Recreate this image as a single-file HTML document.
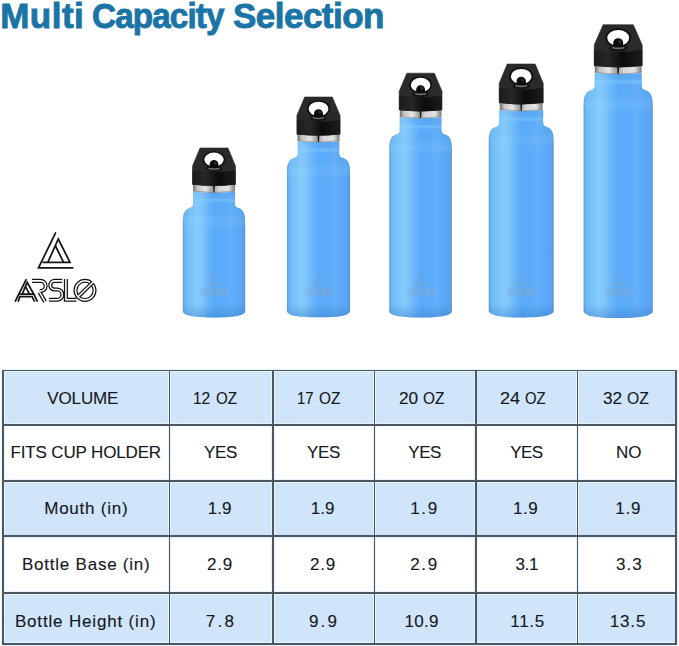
<!DOCTYPE html>
<html><head><meta charset="utf-8">
<style>
html,body{margin:0;padding:0;background:#fff;}
body{width:679px;height:646px;position:relative;overflow:hidden;font-family:"Liberation Sans",sans-serif;}
.title{position:absolute;top:-2px;font-weight:bold;font-size:35px;line-height:35px;color:#1a74a6;white-space:nowrap;-webkit-text-stroke:0.9px #1a74a6;}
svg{position:absolute;left:0;top:0;}
.c{position:absolute;}
.t{position:absolute;white-space:nowrap;color:#15181e;-webkit-text-stroke:0.12px #15181e;font-size:17.0px;line-height:17.0px;}
</style></head><body>
<div class="title" style="left:0.2px;letter-spacing:0.5px">Multi</div><div class="title" style="left:92.0px;letter-spacing:-0.93px;transform:scaleX(0.95);transform-origin:0 0">Capacity</div><div class="title" style="left:233px;letter-spacing:-0.53px">Selection</div>
<svg width="679" height="646" viewBox="0 0 679 646">
<defs>
<linearGradient id="bodyg" gradientUnits="objectBoundingBox" x1="0" x2="1" y1="0" y2="0">
  <stop offset="0" stop-color="#5f9ad8"/>
  <stop offset="0.035" stop-color="#6cb8f5"/>
  <stop offset="0.10" stop-color="#76c1f8"/>
  <stop offset="0.22" stop-color="#84cbfc"/>
  <stop offset="0.30" stop-color="#7fc6fb"/>
  <stop offset="0.40" stop-color="#6ab6fa"/>
  <stop offset="0.50" stop-color="#5aabfa"/>
  <stop offset="0.66" stop-color="#5cacfa"/>
  <stop offset="0.76" stop-color="#64aff8"/>
  <stop offset="0.86" stop-color="#5ba9f8"/>
  <stop offset="0.96" stop-color="#58a5f3"/>
  <stop offset="1" stop-color="#5f92cc"/>
</linearGradient>
<linearGradient id="bodyv0" gradientUnits="objectBoundingBox" x1="0" x2="0" y1="0" y2="1">
  <stop offset="0" stop-color="#3c7fc0" stop-opacity="0.10"/>
  <stop offset="0.0931" stop-color="#3c7fc0" stop-opacity="0.0"/>
  <stop offset="0.2323" stop-color="#9ad6ff" stop-opacity="0.18"/>
  <stop offset="0.2959" stop-color="#9ad6ff" stop-opacity="0.0"/>
  <stop offset="0.8886" stop-color="#2f6fb5" stop-opacity="0.0"/>
  <stop offset="1" stop-color="#2f6fb5" stop-opacity="0.35"/>
</linearGradient><linearGradient id="bodyv1" gradientUnits="objectBoundingBox" x1="0" x2="0" y1="0" y2="1">
  <stop offset="0" stop-color="#3c7fc0" stop-opacity="0.10"/>
  <stop offset="0.0683" stop-color="#3c7fc0" stop-opacity="0.0"/>
  <stop offset="0.1678" stop-color="#9ad6ff" stop-opacity="0.18"/>
  <stop offset="0.2133" stop-color="#9ad6ff" stop-opacity="0.0"/>
  <stop offset="0.9204" stop-color="#2f6fb5" stop-opacity="0.0"/>
  <stop offset="1" stop-color="#2f6fb5" stop-opacity="0.35"/>
</linearGradient><linearGradient id="bodyv2" gradientUnits="objectBoundingBox" x1="0" x2="0" y1="0" y2="1">
  <stop offset="0" stop-color="#3c7fc0" stop-opacity="0.10"/>
  <stop offset="0.0625" stop-color="#3c7fc0" stop-opacity="0.0"/>
  <stop offset="0.1500" stop-color="#9ad6ff" stop-opacity="0.18"/>
  <stop offset="0.1900" stop-color="#9ad6ff" stop-opacity="0.0"/>
  <stop offset="0.9300" stop-color="#2f6fb5" stop-opacity="0.0"/>
  <stop offset="1" stop-color="#2f6fb5" stop-opacity="0.35"/>
</linearGradient><linearGradient id="bodyv3" gradientUnits="objectBoundingBox" x1="0" x2="0" y1="0" y2="1">
  <stop offset="0" stop-color="#3c7fc0" stop-opacity="0.10"/>
  <stop offset="0.0589" stop-color="#3c7fc0" stop-opacity="0.0"/>
  <stop offset="0.1433" stop-color="#9ad6ff" stop-opacity="0.18"/>
  <stop offset="0.1819" stop-color="#9ad6ff" stop-opacity="0.0"/>
  <stop offset="0.9324" stop-color="#2f6fb5" stop-opacity="0.0"/>
  <stop offset="1" stop-color="#2f6fb5" stop-opacity="0.35"/>
</linearGradient><linearGradient id="bodyv4" gradientUnits="objectBoundingBox" x1="0" x2="0" y1="0" y2="1">
  <stop offset="0" stop-color="#3c7fc0" stop-opacity="0.10"/>
  <stop offset="0.0502" stop-color="#3c7fc0" stop-opacity="0.0"/>
  <stop offset="0.1279" stop-color="#9ad6ff" stop-opacity="0.18"/>
  <stop offset="0.1605" stop-color="#9ad6ff" stop-opacity="0.0"/>
  <stop offset="0.9428" stop-color="#2f6fb5" stop-opacity="0.0"/>
  <stop offset="1" stop-color="#2f6fb5" stop-opacity="0.35"/>
</linearGradient>
<linearGradient id="metal" x1="0" x2="1" y1="0" y2="0">
  <stop offset="0" stop-color="#6e6e6e"/>
  <stop offset="0.1" stop-color="#c4c4c4"/>
  <stop offset="0.3" stop-color="#e6e6e6"/>
  <stop offset="0.47" stop-color="#9a9a9a"/>
  <stop offset="0.62" stop-color="#d6d6d6"/>
  <stop offset="0.85" stop-color="#e2e2e2"/>
  <stop offset="1" stop-color="#7a7a7a"/>
</linearGradient>
<linearGradient id="capband" x1="0" x2="1" y1="0" y2="0">
  <stop offset="0" stop-color="#1c1c1c"/>
  <stop offset="0.3" stop-color="#262626"/>
  <stop offset="0.6" stop-color="#0c0c0c"/>
  <stop offset="1" stop-color="#1c1c1c"/>
</linearGradient>
</defs>
<path d="M193.00,191.80 L235.00,191.80 L235.00,203.50 Q235.00,206.62 237.86,207.79 C243.98,209.35 245.20,214.22 245.20,223.00 L245.20,311.00 C245.20,316.20 231.16,317.50 214.00,317.50 C196.84,317.50 182.80,316.20 182.80,311.00 L182.80,223.00 C182.80,214.22 184.02,209.35 190.14,207.79 Q193.00,206.62 193.00,203.50 Z" fill="url(#bodyg)"/>
<path d="M193.00,191.80 L235.00,191.80 L235.00,203.50 Q235.00,206.62 237.86,207.79 C243.98,209.35 245.20,214.22 245.20,223.00 L245.20,311.00 C245.20,316.20 231.16,317.50 214.00,317.50 C196.84,317.50 182.80,316.20 182.80,311.00 L182.80,223.00 C182.80,214.22 184.02,209.35 190.14,207.79 Q193.00,206.62 193.00,203.50 Z" fill="url(#bodyv0)"/>
<rect x="193.00" y="198.50" width="42.00" height="3.50" fill="#8fd0fb" opacity="0.35"/>
<path d="M193.10,183.50 L234.90,183.50 L234.90,191.40 Q214.00,194.20 193.10,191.40 Z" fill="url(#metal)"/>
<path d="M193.10,191.10 Q214.00,193.90 234.90,191.10" stroke="#6f6f6f" stroke-width="0.7" fill="none" opacity="0.7"/>
<path d="M213.10,185.00 L214.90,185.00 L214.50,192.30 L213.50,192.30 Z" fill="#121212"/>
<path d="M200.00,148.00 L228.00,148.00 L235.50,166.00 L235.50,184.40 Q214.00,187.00 192.50,184.40 L192.50,166.00 Z" fill="#2a2a2a" stroke="#2a2a2a" stroke-width="0.6" stroke-linejoin="round"/>
<path d="M192.50,170.20 Q214.00,174.20 235.50,170.20 L235.50,184.40 Q214.00,187.00 192.50,184.40 Z" fill="url(#capband)"/>
<ellipse cx="214.00" cy="159.60" rx="11.40" ry="8.70" fill="#111"/>
<ellipse cx="214.00" cy="159.60" rx="9.70" ry="7.00" fill="#fff"/>
<ellipse cx="214.00" cy="168.60" rx="8.40" ry="3.10" fill="#141414"/>
<ellipse cx="214.00" cy="168.40" rx="5.80" ry="1.40" fill="#707070"/>
<path d="M209.60,167.70 L209.60,164.30 A4.40,4.40 0 0 1 218.40,164.30 L218.40,167.70 Q214.00,168.80 209.60,167.70 Z" fill="#0b0b0b"/>
<ellipse cx="215.20" cy="163.10" rx="1.30" ry="1.60" fill="#2c2c2c"/>
<g stroke="#7f9fc0" stroke-width="0.9" fill="none" opacity="0.8"><path d="M213.70,272.00 L209.20,285.50 L219.00,285.50 M214.60,274.50 L218.20,283.20 L210.40,283.20"/></g>
<rect x="200.00" y="288.00" width="28" height="8" rx="3" fill="#86a6c6" opacity="0.22"/>
<g stroke="#8fa9c4" stroke-width="0.8" fill="none" opacity="0.6"><path d="M202.00,295.50 L205.00,288.50 L208.00,295.50 M209.00,288.50 L212.50,288.50 Q214.50,290.50 212.50,292.00 L214.50,295.50 M218.00,288.50 Q215.50,290.00 217.00,292.00 Q218.50,293.50 216.00,295.50 M219.50,288.50 L219.50,295.50 L222.00,295.50"/><circle cx="224.50" cy="292.00" r="3.2"/></g>
<path d="M297.70,141.50 L339.30,141.50 L339.30,153.50 Q339.30,156.62 342.32,157.79 C348.80,159.35 350.10,164.22 350.10,173.00 L350.10,310.66 C350.10,315.97 335.88,317.30 318.50,317.30 C301.12,317.30 286.90,315.97 286.90,310.66 L286.90,173.00 C286.90,164.22 288.20,159.35 294.68,157.79 Q297.70,156.62 297.70,153.50 Z" fill="url(#bodyg)"/>
<path d="M297.70,141.50 L339.30,141.50 L339.30,153.50 Q339.30,156.62 342.32,157.79 C348.80,159.35 350.10,164.22 350.10,173.00 L350.10,310.66 C350.10,315.97 335.88,317.30 318.50,317.30 C301.12,317.30 286.90,315.97 286.90,310.66 L286.90,173.00 C286.90,164.22 288.20,159.35 294.68,157.79 Q297.70,156.62 297.70,153.50 Z" fill="url(#bodyv1)"/>
<rect x="297.70" y="148.39" width="41.60" height="3.58" fill="#8fd0fb" opacity="0.35"/>
<path d="M297.50,133.30 L339.50,133.30 L339.50,141.07 Q318.50,143.93 297.50,141.07 Z" fill="url(#metal)"/>
<path d="M297.50,140.77 Q318.50,143.63 339.50,140.77" stroke="#6f6f6f" stroke-width="0.7" fill="none" opacity="0.7"/>
<path d="M317.58,134.80 L319.42,134.80 L319.01,142.00 L317.99,142.00 Z" fill="#121212"/>
<path d="M304.70,97.00 L332.30,97.00 L340.10,115.39 L340.10,134.19 Q318.50,136.84 296.90,134.19 L296.90,115.39 Z" fill="#2a2a2a" stroke="#2a2a2a" stroke-width="0.6" stroke-linejoin="round"/>
<path d="M296.90,119.68 Q318.50,123.77 340.10,119.68 L340.10,134.19 Q318.50,136.84 296.90,134.19 Z" fill="url(#capband)"/>
<ellipse cx="318.50" cy="108.85" rx="11.65" ry="8.89" fill="#111"/>
<ellipse cx="318.50" cy="108.85" rx="9.91" ry="7.15" fill="#fff"/>
<ellipse cx="318.50" cy="118.05" rx="8.58" ry="3.17" fill="#141414"/>
<ellipse cx="318.50" cy="117.84" rx="5.93" ry="1.43" fill="#707070"/>
<path d="M314.00,117.13 L314.00,113.65 A4.50,4.50 0 0 1 323.00,113.65 L323.00,117.13 Q318.50,118.25 314.00,117.13 Z" fill="#0b0b0b"/>
<ellipse cx="319.73" cy="112.43" rx="1.33" ry="1.63" fill="#2c2c2c"/>
<g stroke="#7f9fc0" stroke-width="0.9" fill="none" opacity="0.8"><path d="M318.20,271.80 L313.70,285.30 L323.50,285.30 M319.10,274.30 L322.70,283.00 L314.90,283.00"/></g>
<rect x="304.50" y="287.80" width="28" height="8" rx="3" fill="#86a6c6" opacity="0.22"/>
<g stroke="#8fa9c4" stroke-width="0.8" fill="none" opacity="0.6"><path d="M306.50,295.30 L309.50,288.30 L312.50,295.30 M313.50,288.30 L317.00,288.30 Q319.00,290.30 317.00,291.80 L319.00,295.30 M322.50,288.30 Q320.00,289.80 321.50,291.80 Q323.00,293.30 320.50,295.30 M324.00,288.30 L324.00,295.30 L326.50,295.30"/><circle cx="329.00" cy="291.80" r="3.2"/></g>
<path d="M399.60,117.50 L441.60,117.50 L441.60,130.00 Q441.60,133.12 444.48,134.29 C450.66,135.85 451.90,140.72 451.90,149.50 L451.90,310.95 C451.90,316.19 437.82,317.50 420.60,317.50 C403.38,317.50 389.30,316.19 389.30,310.95 L389.30,149.50 C389.30,140.72 390.54,135.85 396.72,134.29 Q399.60,133.12 399.60,130.00 Z" fill="url(#bodyg)"/>
<path d="M399.60,117.50 L441.60,117.50 L441.60,130.00 Q441.60,133.12 444.48,134.29 C450.66,135.85 451.90,140.72 451.90,149.50 L451.90,310.95 C451.90,316.19 437.82,317.50 420.60,317.50 C403.38,317.50 389.30,316.19 389.30,310.95 L389.30,149.50 C389.30,140.72 390.54,135.85 396.72,134.29 Q399.60,133.12 399.60,130.00 Z" fill="url(#bodyv2)"/>
<rect x="399.60" y="124.96" width="42.00" height="3.53" fill="#8fd0fb" opacity="0.35"/>
<path d="M399.80,109.00 L441.40,109.00 L441.40,117.09 Q420.60,119.91 399.80,117.09 Z" fill="url(#metal)"/>
<path d="M399.80,116.79 Q420.60,119.61 441.40,116.79" stroke="#6f6f6f" stroke-width="0.7" fill="none" opacity="0.7"/>
<path d="M419.69,110.50 L421.51,110.50 L421.10,118.00 L420.10,118.00 Z" fill="#121212"/>
<path d="M406.80,73.20 L434.40,73.20 L442.00,91.35 L442.00,109.90 Q420.60,112.52 399.20,109.90 L399.20,91.35 Z" fill="#2a2a2a" stroke="#2a2a2a" stroke-width="0.6" stroke-linejoin="round"/>
<path d="M399.20,95.58 Q420.60,99.61 442.00,95.58 L442.00,109.90 Q420.60,112.52 399.20,109.90 Z" fill="url(#capband)"/>
<ellipse cx="420.60" cy="84.89" rx="11.49" ry="8.77" fill="#111"/>
<ellipse cx="420.60" cy="84.89" rx="9.78" ry="7.06" fill="#fff"/>
<ellipse cx="420.60" cy="93.97" rx="8.47" ry="3.13" fill="#141414"/>
<ellipse cx="420.60" cy="93.77" rx="5.85" ry="1.41" fill="#707070"/>
<path d="M416.16,93.06 L416.16,89.63 A4.44,4.44 0 0 1 425.04,89.63 L425.04,93.06 Q420.60,94.17 416.16,93.06 Z" fill="#0b0b0b"/>
<ellipse cx="421.81" cy="88.42" rx="1.31" ry="1.61" fill="#2c2c2c"/>
<g stroke="#7f9fc0" stroke-width="0.9" fill="none" opacity="0.8"><path d="M420.30,272.00 L415.80,285.50 L425.60,285.50 M421.20,274.50 L424.80,283.20 L417.00,283.20"/></g>
<rect x="406.60" y="288.00" width="28" height="8" rx="3" fill="#86a6c6" opacity="0.22"/>
<g stroke="#8fa9c4" stroke-width="0.8" fill="none" opacity="0.6"><path d="M408.60,295.50 L411.60,288.50 L414.60,295.50 M415.60,288.50 L419.10,288.50 Q421.10,290.50 419.10,292.00 L421.10,295.50 M424.60,288.50 Q422.10,290.00 423.60,292.00 Q425.10,293.50 422.60,295.50 M426.10,288.50 L426.10,295.50 L428.60,295.50"/><circle cx="431.10" cy="292.00" r="3.2"/></g>
<path d="M499.20,110.30 L543.20,110.30 L543.20,122.50 Q543.20,125.62 546.14,126.79 C552.44,128.35 553.70,133.22 553.70,142.00 L553.70,310.56 C553.70,316.11 539.08,317.50 521.20,317.50 C503.33,317.50 488.70,316.11 488.70,310.56 L488.70,142.00 C488.70,133.22 489.96,128.35 496.26,126.79 Q499.20,125.62 499.20,122.50 Z" fill="url(#bodyg)"/>
<path d="M499.20,110.30 L543.20,110.30 L543.20,122.50 Q543.20,125.62 546.14,126.79 C552.44,128.35 553.70,133.22 553.70,142.00 L553.70,310.56 C553.70,316.11 539.08,317.50 521.20,317.50 C503.33,317.50 488.70,316.11 488.70,310.56 L488.70,142.00 C488.70,133.22 489.96,128.35 496.26,126.79 Q499.20,125.62 499.20,122.50 Z" fill="url(#bodyv3)"/>
<rect x="499.20" y="117.16" width="44.00" height="3.74" fill="#8fd0fb" opacity="0.35"/>
<path d="M499.80,102.00 L542.60,102.00 L542.60,109.81 Q521.20,112.79 499.80,109.81 Z" fill="url(#metal)"/>
<path d="M499.80,109.51 Q521.20,112.49 542.60,109.51" stroke="#6f6f6f" stroke-width="0.7" fill="none" opacity="0.7"/>
<path d="M520.24,103.50 L522.16,103.50 L521.73,110.80 L520.67,110.80 Z" fill="#121212"/>
<path d="M507.20,64.00 L535.20,64.00 L543.20,83.22 L543.20,102.86 Q521.20,105.64 499.20,102.86 L499.20,83.22 Z" fill="#2a2a2a" stroke="#2a2a2a" stroke-width="0.6" stroke-linejoin="round"/>
<path d="M499.20,87.70 Q521.20,91.97 543.20,87.70 L543.20,102.86 Q521.20,105.64 499.20,102.86 Z" fill="url(#capband)"/>
<ellipse cx="521.20" cy="76.38" rx="12.17" ry="9.29" fill="#111"/>
<ellipse cx="521.20" cy="76.38" rx="10.36" ry="7.47" fill="#fff"/>
<ellipse cx="521.20" cy="85.99" rx="8.97" ry="3.31" fill="#141414"/>
<ellipse cx="521.20" cy="85.78" rx="6.19" ry="1.49" fill="#707070"/>
<path d="M516.50,85.03 L516.50,81.40 A4.70,4.70 0 0 1 525.90,81.40 L525.90,85.03 Q521.20,86.21 516.50,85.03 Z" fill="#0b0b0b"/>
<ellipse cx="522.48" cy="80.12" rx="1.39" ry="1.71" fill="#2c2c2c"/>
<g stroke="#7f9fc0" stroke-width="0.9" fill="none" opacity="0.8"><path d="M520.90,272.00 L516.40,285.50 L526.20,285.50 M521.80,274.50 L525.40,283.20 L517.60,283.20"/></g>
<rect x="507.20" y="288.00" width="28" height="8" rx="3" fill="#86a6c6" opacity="0.22"/>
<g stroke="#8fa9c4" stroke-width="0.8" fill="none" opacity="0.6"><path d="M509.20,295.50 L512.20,288.50 L515.20,295.50 M516.20,288.50 L519.70,288.50 Q521.70,290.50 519.70,292.00 L521.70,295.50 M525.20,288.50 Q522.70,290.00 524.20,292.00 Q525.70,293.50 523.20,295.50 M526.70,288.50 L526.70,295.50 L529.20,295.50"/><circle cx="531.70" cy="292.00" r="3.2"/></g>
<path d="M594.60,73.20 L641.80,73.20 L641.80,85.50 Q641.80,88.86 644.88,90.12 C651.48,91.80 652.80,97.05 652.80,106.50 L652.80,310.66 C652.80,316.53 637.23,318.00 618.20,318.00 C599.17,318.00 583.60,316.53 583.60,310.66 L583.60,106.50 C583.60,97.05 584.92,91.80 591.52,90.12 Q594.60,88.86 594.60,85.50 Z" fill="url(#bodyg)"/>
<path d="M594.60,73.20 L641.80,73.20 L641.80,85.50 Q641.80,88.86 644.88,90.12 C651.48,91.80 652.80,97.05 652.80,106.50 L652.80,310.66 C652.80,316.53 637.23,318.00 618.20,318.00 C599.17,318.00 583.60,316.53 583.60,310.66 L583.60,106.50 C583.60,97.05 584.92,91.80 591.52,90.12 Q594.60,88.86 594.60,85.50 Z" fill="url(#bodyv4)"/>
<rect x="594.60" y="79.85" width="47.20" height="3.95" fill="#8fd0fb" opacity="0.35"/>
<path d="M594.80,65.00 L641.60,65.00 L641.60,72.62 Q618.20,75.78 594.80,72.62 Z" fill="url(#metal)"/>
<path d="M594.80,72.32 Q618.20,75.48 641.60,72.32" stroke="#6f6f6f" stroke-width="0.7" fill="none" opacity="0.7"/>
<path d="M617.18,66.50 L619.22,66.50 L618.76,73.70 L617.64,73.70 Z" fill="#121212"/>
<path d="M603.10,24.70 L633.30,24.70 L642.20,45.04 L642.20,65.82 Q618.20,68.76 594.20,65.82 L594.20,45.04 Z" fill="#2a2a2a" stroke="#2a2a2a" stroke-width="0.6" stroke-linejoin="round"/>
<path d="M594.20,49.78 Q618.20,54.30 642.20,49.78 L642.20,65.82 Q618.20,68.76 594.20,65.82 Z" fill="url(#capband)"/>
<ellipse cx="618.20" cy="37.80" rx="12.88" ry="9.83" fill="#111"/>
<ellipse cx="618.20" cy="37.80" rx="10.96" ry="7.91" fill="#fff"/>
<ellipse cx="618.20" cy="47.97" rx="9.49" ry="3.50" fill="#141414"/>
<ellipse cx="618.20" cy="47.75" rx="6.55" ry="1.58" fill="#707070"/>
<path d="M613.23,46.96 L613.23,43.11 A4.97,4.97 0 0 1 623.17,43.11 L623.17,46.96 Q618.20,48.20 613.23,46.96 Z" fill="#0b0b0b"/>
<ellipse cx="619.56" cy="41.76" rx="1.47" ry="1.81" fill="#2c2c2c"/>
<g stroke="#7f9fc0" stroke-width="0.9" fill="none" opacity="0.8"><path d="M617.90,272.50 L613.40,286.00 L623.20,286.00 M618.80,275.00 L622.40,283.70 L614.60,283.70"/></g>
<rect x="604.20" y="288.50" width="28" height="8" rx="3" fill="#86a6c6" opacity="0.22"/>
<g stroke="#8fa9c4" stroke-width="0.8" fill="none" opacity="0.6"><path d="M606.20,296.00 L609.20,289.00 L612.20,296.00 M613.20,289.00 L616.70,289.00 Q618.70,291.00 616.70,292.50 L618.70,296.00 M622.20,289.00 Q619.70,290.50 621.20,292.50 Q622.70,294.00 620.20,296.00 M623.70,289.00 L623.70,296.00 L626.20,296.00"/><circle cx="628.70" cy="292.50" r="3.2"/></g>
<g stroke="#151515" stroke-width="1.75" fill="none" stroke-linecap="butt" stroke-linejoin="miter">
<path d="M55.8,232.4 L38.5,267.8 L73.4,267.8"/>
<path d="M47.8,262.4 L58.3,239.0 L70.0,262.4 L42.6,262.4"/>
<path d="M55.5,246.0 L63.6,262.4"/>
<path d="M26.4,279.1 L15.1,301.6"/>
<path d="M22.2,294.2 L27.2,282.4 L33.8,294.2 L19.2,294.2"/>
<path d="M25.6,286.8 L29.6,294.2"/>
<path d="M18.1,301.6 L19.9,296.7 L32.1,296.7 L34.6,301.6"/>
<path d="M33.8,294.2 L37.5,301.6"/>
</g>
<g fill="none" stroke-linecap="butt">
<path id="lR" d="M32,280.9 L40.6,280.9 A5.05,5.05 0 0 1 40.6,291.0 L39.8,291.0 M39.6,292.4 L45.0,301.6" stroke="#151515" stroke-width="4.1"/>
<path d="M32,280.9 L40.6,280.9 A5.05,5.05 0 0 1 40.6,291.0 L39.8,291.0 M39.6,292.4 L45.0,301.6" stroke="#fff" stroke-width="1.6"/>
<path d="M62.2,280.9 L54.6,280.9 A4.3,4.3 0 0 0 54.6,289.5 L57.2,289.5 A5.15,5.15 0 0 1 57.2,299.8 L49.0,299.8" stroke="#151515" stroke-width="4.1"/>
<path d="M62.2,280.9 L54.6,280.9 A4.3,4.3 0 0 0 54.6,289.5 L57.2,289.5 A5.15,5.15 0 0 1 57.2,299.8 L49.0,299.8" stroke="#fff" stroke-width="1.6"/>
<path d="M65.9,279 L65.9,299.8 L76.5,299.8" stroke="#151515" stroke-width="4.1"/>
<path d="M65.9,278 L65.9,299.8 L77.5,299.8" stroke="#fff" stroke-width="1.6"/>
<circle cx="85.0" cy="290.35" r="9.55" stroke="#151515" stroke-width="4.0"/>
<circle cx="85.0" cy="290.35" r="9.55" stroke="#fff" stroke-width="1.6"/>
<path d="M78.6,296.2 L92.6,282.6" stroke="#151515" stroke-width="4.0"/>
<path d="M78.0,296.8 L93.2,282.0" stroke="#fff" stroke-width="1.6"/>
</g>
</svg>
<div class="c" style="left:2.80px;top:370.70px;width:673.50px;height:54.00px;background:#d0e4fa"></div>
<div class="c" style="left:2.80px;top:424.70px;width:673.50px;height:56.10px;background:#ffffff"></div>
<div class="c" style="left:2.80px;top:480.80px;width:673.50px;height:55.50px;background:#d0e4fa"></div>
<div class="c" style="left:2.80px;top:536.30px;width:673.50px;height:56.60px;background:#ffffff"></div>
<div class="c" style="left:2.80px;top:592.90px;width:673.50px;height:50.90px;background:#d0e4fa"></div>
<div class="c" style="left:1.02px;top:370.70px;width:3.55px;height:273.10px;background:#e6f4fe"></div>
<div class="c" style="left:167.72px;top:370.70px;width:3.55px;height:273.10px;background:#e6f4fe"></div>
<div class="c" style="left:271.12px;top:370.70px;width:3.55px;height:273.10px;background:#e6f4fe"></div>
<div class="c" style="left:372.73px;top:370.70px;width:3.55px;height:273.10px;background:#e6f4fe"></div>
<div class="c" style="left:473.93px;top:370.70px;width:3.55px;height:273.10px;background:#e6f4fe"></div>
<div class="c" style="left:575.73px;top:370.70px;width:3.55px;height:273.10px;background:#e6f4fe"></div>
<div class="c" style="left:674.52px;top:370.70px;width:3.55px;height:273.10px;background:#e6f4fe"></div>
<div class="c" style="left:2.80px;top:369.00px;width:673.50px;height:3.40px;background:#e6f4fe"></div>
<div class="c" style="left:2.80px;top:422.95px;width:673.50px;height:3.50px;background:#e6f4fe"></div>
<div class="c" style="left:2.80px;top:478.85px;width:673.50px;height:3.90px;background:#e6f4fe"></div>
<div class="c" style="left:2.80px;top:534.55px;width:673.50px;height:3.50px;background:#e6f4fe"></div>
<div class="c" style="left:2.80px;top:591.05px;width:673.50px;height:3.70px;background:#e6f4fe"></div>
<div class="c" style="left:2.80px;top:642.00px;width:673.50px;height:3.60px;background:#e6f4fe"></div>
<div class="c" style="left:1.92px;top:369.70px;width:1.75px;height:275.10px;background:#4d5762"></div>
<div class="c" style="left:168.62px;top:369.70px;width:1.75px;height:275.10px;background:#4d5762"></div>
<div class="c" style="left:272.02px;top:369.70px;width:1.75px;height:275.10px;background:#4d5762"></div>
<div class="c" style="left:373.62px;top:369.70px;width:1.75px;height:275.10px;background:#4d5762"></div>
<div class="c" style="left:474.82px;top:369.70px;width:1.75px;height:275.10px;background:#4d5762"></div>
<div class="c" style="left:576.62px;top:369.70px;width:1.75px;height:275.10px;background:#4d5762"></div>
<div class="c" style="left:675.42px;top:369.70px;width:1.75px;height:275.10px;background:#4d5762"></div>
<div class="c" style="left:1.80px;top:369.90px;width:675.50px;height:1.6px;background:#4d5762"></div>
<div class="c" style="left:1.80px;top:423.85px;width:675.50px;height:1.7px;background:#4d5762"></div>
<div class="c" style="left:1.80px;top:479.75px;width:675.50px;height:2.1px;background:#4d5762"></div>
<div class="c" style="left:1.80px;top:535.45px;width:675.50px;height:1.7px;background:#4d5762"></div>
<div class="c" style="left:1.80px;top:591.95px;width:675.50px;height:1.9px;background:#4d5762"></div>
<div class="c" style="left:1.80px;top:642.90px;width:675.50px;height:1.8px;background:#4d5762"></div>
<div class="t" style="left:47.30px;top:390.00px;letter-spacing:-0.140px">VOLUME</div>
<div class="t" style="left:193.09px;top:390.00px;transform:scaleX(0.9118);transform-origin:0 0">12</div>
<div class="t" style="left:215.61px;top:390.00px;transform:scaleX(0.8864);transform-origin:0 0">OZ</div>
<div class="t" style="left:297.03px;top:390.00px;transform:scaleX(0.8706);transform-origin:0 0">17</div>
<div class="t" style="left:318.80px;top:390.00px;transform:scaleX(0.9045);transform-origin:0 0">OZ</div>
<div class="t" style="left:398.69px;top:390.00px;transform:scaleX(1.0118);transform-origin:0 0">20</div>
<div class="t" style="left:423.00px;top:390.00px;transform:scaleX(0.9045);transform-origin:0 0">OZ</div>
<div class="t" style="left:500.04px;top:390.00px;transform:scaleX(1.0611);transform-origin:0 0">24</div>
<div class="t" style="left:525.13px;top:390.00px;transform:scaleX(0.8727);transform-origin:0 0">OZ</div>
<div class="t" style="left:602.69px;top:390.00px;transform:scaleX(1.0118);transform-origin:0 0">32</div>
<div class="t" style="left:626.58px;top:390.00px;transform:scaleX(0.9227);transform-origin:0 0">OZ</div>
<div class="t" style="left:10.50px;top:444.10px;letter-spacing:-0.150px">FITS CUP HOLDER</div>
<div class="t" style="left:204.00px;top:444.10px;letter-spacing:-0.350px">YES</div>
<div class="t" style="left:307.00px;top:444.10px;letter-spacing:-0.300px">YES</div>
<div class="t" style="left:408.30px;top:444.10px;letter-spacing:-0.500px">YES</div>
<div class="t" style="left:510.30px;top:444.10px;letter-spacing:-0.550px">YES</div>
<div class="t" style="left:616.00px;top:444.10px;letter-spacing:0.000px">NO</div>
<div class="t" style="left:44.20px;top:500.40px;letter-spacing:0.778px">Mouth (in)</div>
<div class="t" style="left:207.70px;top:500.40px;letter-spacing:0.050px">1.9</div>
<div class="t" style="left:310.80px;top:500.40px;letter-spacing:0.000px">1.9</div>
<div class="t" style="left:410.20px;top:500.40px;letter-spacing:1.700px">1.9</div>
<div class="t" style="left:512.90px;top:500.40px;letter-spacing:0.550px">1.9</div>
<div class="t" style="left:615.20px;top:500.40px;letter-spacing:0.800px">1.9</div>
<div class="t" style="left:22.00px;top:556.20px;letter-spacing:0.767px">Bottle Base (in)</div>
<div class="t" style="left:206.90px;top:556.20px;letter-spacing:0.800px">2.9</div>
<div class="t" style="left:310.00px;top:556.20px;letter-spacing:0.800px">2.9</div>
<div class="t" style="left:410.20px;top:556.20px;letter-spacing:1.700px">2.9</div>
<div class="t" style="left:515.50px;top:556.20px;letter-spacing:-0.350px">3.1</div>
<div class="t" style="left:616.00px;top:556.20px;letter-spacing:1.000px">3.3</div>
<div class="t" style="left:14.90px;top:613.30px;letter-spacing:0.829px">Bottle Height (in)</div>
<div class="t" style="left:205.80px;top:613.30px;letter-spacing:2.250px">7.8</div>
<div class="t" style="left:308.90px;top:613.30px;letter-spacing:2.250px">9.9</div>
<div class="t" style="left:404.60px;top:613.30px;letter-spacing:0.267px">10.9</div>
<div class="t" style="left:510.30px;top:613.30px;letter-spacing:0.667px">11.5</div>
<div class="t" style="left:609.70px;top:613.30px;letter-spacing:0.867px">13.5</div>
</body></html>
